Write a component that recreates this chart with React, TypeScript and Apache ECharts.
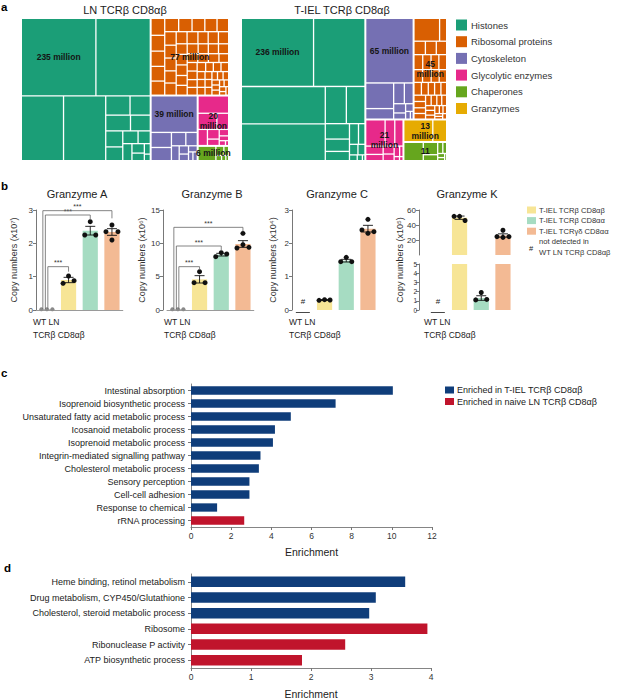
import React, { useEffect, useRef } from 'react';
import * as echarts from 'echarts';

const FONT = '"Liberation Sans", Arial, Helvetica, sans-serif';
const TXT = '#222';

// ---------------- a: treemaps ----------------
const tmCategories = ['Histones', 'Ribosomal proteins', 'Cytoskeleton', 'Glycolytic enzymes', 'Chaperones', 'Granzymes'];
const tmColors = ['#1b9e77', '#d95f02', '#7570b3', '#e7298a', '#66a61e', '#e6ab02'];
const tmTitles = ['LN TCRβ CD8αβ', 'T-IEL TCRβ CD8αβ'];
const lnTotals = [235, 77, 39, 20, 6, 0];
const ielTotals = [236, 45, 65, 21, 11, 13];
const lnLabels = ['235 million', '77 million', '39 million', '20\nmillion', '6 million', ''];
const ielLabels = ['236 million', '45\nmillion', '65 million', '21\nmillion', '11\nmillion', '13\nmillion'];
const labelOnFirstLeaf = [true, false, true, false, false, false];

const lnHistones = [74, 54, 35, 35, 6, 5, 5, 4, 3.5, 3, 2.5, 2, 2, 1.5, 1.2, 0.8, 0.5];
const lnRibosomal = [3.0, 2.8, 2.7, 2.6, 2.5, 2.4, 2.3, 2.2, 2.1, 2.0, 2.0, 1.9, 1.9, 1.8, 1.8, 1.7, 1.7, 1.6, 1.6, 1.6, 1.5, 1.5, 1.5, 1.4, 1.4, 1.4, 1.3, 1.3, 1.3, 1.2, 1.2, 1.2, 1.1, 1.1, 1.1, 1.0, 1.0, 1.0, 0.9, 0.9, 0.9, 0.8, 0.8, 0.8, 0.7, 0.7, 0.7, 0.6, 0.6, 0.6, 0.5, 0.5, 0.5, 0.4, 0.4, 0.4, 0.3, 0.3];
const lnCytoskeleton = [22, 4, 3.5, 2.5, 2, 1.5, 1, 0.8, 0.7, 0.5, 0.5];
const lnGlycolytic = [7, 4, 2.5, 2, 1.5, 1, 0.8, 0.6, 0.4, 0.2];
const lnChaperones = [3.5, 1, 0.6, 0.4, 0.3, 0.2];
const lnGranzymes: number[] = [];

const ielHistones = [66, 47, 42, 41.5, 10.5, 9.3, 5, 4, 3, 2.5, 1.8, 1.2, 1, 0.6, 0.4, 0.2];
const ielRibosomal = [8, 2.2, 2.1, 2, 1.9, 1.8, 1.7, 1.6, 1.6, 1.5, 1.5, 1.4, 1.3, 1.3, 1.2, 1.1, 1.1, 1.0, 1.0, 1.0, 0.9, 0.9, 0.8, 0.8, 0.7, 0.7, 0.6, 0.6, 0.5, 0.5, 0.4, 0.4, 0.3, 0.3, 0.3];
const ielCytoskeleton = [41.7, 9.7, 4, 3, 2.5, 1.5, 1, 0.8, 0.5, 0.3];
const ielGlycolytic = [7, 3.5, 3, 2, 1.5, 1.2, 1, 0.8, 0.5, 0.3, 0.2];
const ielChaperones = [5, 2.5, 1.2, 0.8, 0.6, 0.4, 0.3, 0.2];
const ielGranzymes = [8.8, 4.2];

const lnLeaves = [lnHistones, lnRibosomal, lnCytoskeleton, lnGlycolytic, lnChaperones, lnGranzymes];
const ielLeaves = [ielHistones, ielRibosomal, ielCytoskeleton, ielGlycolytic, ielChaperones, ielGranzymes];

// ---------------- b: granzymes ----------------
const gzmTitles = ['Granzyme A', 'Granzyme B', 'Granzyme C', 'Granzyme K'];
const gzmYNames = ['Copy numbers (x10⁷)', 'Copy numbers (x10⁶)', 'Copy numbers (x10⁴)', 'Copy numbers (x10⁵)'];
const cellTypes = ['WT LN TCRβ CD8αβ', 'T-IEL TCRβ CD8αβ', 'T-IEL TCRβ CD8αα', 'T-IEL TCRγδ CD8αα'];
const cellColors = ['#9a9a9a', '#f7e596', '#a6dcc2', '#f3ba94'];
const gzmMeans = [
  [0.02, 0.9, 2.38, 2.34],
  [0.1, 4.6, 8.3, 9.9],
  [null, 0.3, 1.48, 2.44],
  [null, 49.7, 1.3, 26],
];
const gzmSems = [
  [null, 0.08, 0.13, 0.1],
  [null, 0.55, 0.2, 0.5],
  [null, 0.015, 0.04, 0.1],
  [null, 2.2, 0.25, 2.2],
];
const gzmDots = [
  [[0.02, 0.02, 0.02], [1.02, 0.8, 0.88], [2.65, 2.25, 2.25], [2.55, 2.35, 2.35, 2.1]],
  [[0.1, 0.1, 0.1], [5.75, 4.1, 4.1], [8.6, 8.0, 8.4], [11.5, 9.3, 9.4, 9.8]],
  [[], [0.31, 0.29, 0.3], [1.58, 1.45, 1.45], [2.72, 2.4, 2.35, 2.3]],
  [[], [51.5, 51.5, 46], [1.9, 1.1, 1.15], [33, 24.5, 24.5, 23.5]],
];
// [fromGroup, toGroup, bracketTop, rightFoot, leftFoot]
const gzmBrackets = [
  [[0, 1, 1.3, 1.15, 0.03], [0, 2, 2.85, 2.7, 0.03], [0, 3, 2.98, 2.75, 0.03]],
  [[0, 1, 6.5, 6.0, 0.15], [0, 2, 9.6, 9.0, 0.15], [0, 3, 12.4, 11.75, 0.15]],
  [],
  [],
];
const gzmNotDetected = [false, false, true, true];
const gzmYMax = [3, 15, 3];
const gzmYInterval = [1, 5, 1];
const gzmKUpper = { min: 0, max: 60, interval: 20 };
const gzmKLower = { min: 0, max: 5, interval: 1 };

// ---------------- c / d: enrichment ----------------
const enrichGroups = ['Enriched in T-IEL TCRβ CD8αβ', 'Enriched in naive LN TCRβ CD8αβ'];
const enrichColors = ['#0f3d7a', '#c0142c'];
const cTerms = ['Intestinal absorption', 'Isoprenoid biosynthetic process', 'Unsaturated fatty acid metabolic process', 'Icosanoid metabolic process', 'Isoprenoid metabolic process', 'Integrin-mediated signalling pathway', 'Cholesterol metabolic process', 'Sensory perception', 'Cell-cell adhesion', 'Response to chemical', 'rRNA processing'];
const cValues = [10.05, 7.2, 4.97, 4.18, 4.08, 3.46, 3.38, 2.91, 2.91, 1.3, 2.65];
const cGroups = [0, 0, 0, 0, 0, 0, 0, 0, 0, 0, 1];
const dTerms = ['Heme binding, retinol metabolism', 'Drug metabolism, CYP450/Glutathione', 'Cholesterol, steroid metabolic process', 'Ribosome', 'Ribonuclease P activity', 'ATP biosynthetic process'];
const dValues = [3.57, 3.08, 2.97, 3.94, 2.57, 1.85];
const dGroups = [0, 0, 0, 1, 1, 1];
const cTicks = { min: 0, max: 12, interval: 2 };
const dTicks = { min: 0, max: 4, interval: 1 };

// ---------------- layout constants ----------------
const tmLayout = [
  { left: 22, width: 206, ratio: 1, titleX: 125 },
  { left: 242, width: 204, ratio: 1.618, titleX: 342 },
];
const bGridLeft = [36, 167, 292, 427];
const bCatW = 21.7;
const bAxisOffset = [0, 4, 0, 8];
const bNameGap = [18, 17, 14.5];
const bTitleX = [77, 212, 337, 467];
const dotOffsets: Record<number, number[]> = { 3: [0, -5.5, 5.5], 4: [0, -6, 6, 0] };
const bracketShift = [0, 1, -1.5, -4];

function buildOption() {
  const grids: any[] = [];
  const xAxes: any[] = [];
  const yAxes: any[] = [];
  const series: any[] = [];
  const gfx: any[] = [];

  const addGrid = (grid: any, x: any, y: any) => {
    grids.push(grid);
    const i = grids.length - 1;
    xAxes.push({ ...x, gridIndex: i });
    yAxes.push({ ...y, gridIndex: i });
    return i;
  };
  const text = (t: string, x: number, y: number, o: any = {}) => ({
    type: 'text', x, y, rotation: o.rotation || 0, silent: true,
    style: {
      text: t, fill: o.fill || TXT, fontSize: o.fontSize || 9, fontWeight: o.fontWeight || 'normal',
      fontFamily: FONT, align: o.align || 'left', verticalAlign: o.verticalAlign || 'middle', lineHeight: o.lineHeight,
    },
  });

  // ---------- panel a ----------
  const tmSides = [
    { totals: lnTotals, labels: lnLabels, leaves: lnLeaves },
    { totals: ielTotals, labels: ielLabels, leaves: ielLeaves },
  ];
  tmSides.forEach((side, s) => {
    const lay = tmLayout[s];
    const main = tmCategories.map((name, i) => ({
      name, value: side.totals[i],
      itemStyle: { color: tmColors[i], borderColor: '#fff' },
      children: side.leaves[i].map((v, j) => ({
        name: name + ' ' + (j + 1), value: v,
        itemStyle: { color: tmColors[i], borderColor: '#fff' },
        label: j === 0 && labelOnFirstLeaf[i] ? { show: true, formatter: side.labels[i] } : { show: false },
      })),
    })).filter((d) => d.value > 0);
    const overlay = tmCategories.map((name, i) => ({
      name, value: side.totals[i],
      itemStyle: { color: 'rgba(0,0,0,0)', borderColor: 'rgba(0,0,0,0)' },
      label: { show: !labelOnFirstLeaf[i], formatter: side.labels[i] },
    })).filter((d) => d.value > 0);
    const labelStyle = {
      show: false, position: 'inside', fontSize: 8.5, fontWeight: 'bold', color: '#151515',
      overflow: 'none', padding: 0, lineHeight: 10, fontFamily: FONT,
    };
    const common = {
      type: 'treemap', left: lay.left, top: 19, width: lay.width, height: 141,
      squareRatio: lay.ratio, roam: false, nodeClick: false, breadcrumb: { show: false },
      sort: 'desc', visibleMin: 0, upperLabel: { show: false }, label: labelStyle,
      emphasis: { disabled: true },
    };
    series.push({
      ...common, name: tmTitles[s], data: main,
      levels: [
        { itemStyle: { borderWidth: 0, gapWidth: 2, borderColor: '#fff' } },
        { itemStyle: { borderWidth: 0, gapWidth: 1.3, borderColor: '#fff' } },
        { itemStyle: { borderWidth: 0, gapWidth: 0, borderColor: '#fff' } },
      ],
    });
    series.push({
      ...common, name: tmTitles[s] + ' labels', data: overlay, silent: true, z: 5,
      levels: [
        { itemStyle: { borderWidth: 0, gapWidth: 2, borderColor: 'rgba(0,0,0,0)', color: 'rgba(0,0,0,0)' } },
        { itemStyle: { borderWidth: 0, borderColor: 'rgba(0,0,0,0)', color: 'rgba(0,0,0,0)' } },
      ],
    });
    gfx.push(text(tmTitles[s], lay.titleX, 10, { fontSize: 11, align: 'center' }));
  });
  gfx.push(text('a', 1, 7, { fontSize: 11.5, fontWeight: 'bold', fill: '#000' }));
  tmCategories.forEach((c, i) => {
    const y = 25 + i * 16.7;
    gfx.push({ type: 'rect', shape: { x: 456, y: y - 5.5, width: 11, height: 11 }, style: { fill: tmColors[i] }, silent: true });
    gfx.push(text(c, 471, y, { fontSize: 9.5, fill: '#333' }));
  });

  // ---------- panel b ----------
  const yAxisBase = (p: number) => ({
    type: 'value', offset: bAxisOffset[p], splitLine: { show: false },
    axisLine: { show: true, lineStyle: { color: '#555', width: 0.8 } },
    axisTick: { show: true, length: 3, lineStyle: { color: '#555', width: 0.8 } },
    axisLabel: { fontSize: 8, color: '#333', margin: 3, fontFamily: FONT },
  });
  const xAxisBase = (p: number) => ({
    type: 'category', data: cellTypes,
    axisLabel: { show: false }, axisTick: { show: false },
    axisLine: { show: !gzmNotDetected[p], lineStyle: { color: '#9a9a9a', width: 1 } },
  });

  const addPanelSeries = (p: number, gi: number, lo: number, hi: number, barLo: number) => {
    const means = gzmMeans[p];
    series.push({
      type: 'bar', xAxisIndex: gi, yAxisIndex: gi, barWidth: '70%', clip: true,
      data: means.map((m, k) => (m == null || m <= barLo ? '-' : { value: m, itemStyle: { color: cellColors[k] } })),
    });
    const dots: any[] = [];
    gzmDots[p].forEach((arr, k) => {
      const offs = dotOffsets[arr.length] || [];
      arr.forEach((v, j) => {
        if (v > lo && v <= hi) dots.push([k, v, offs[j] || 0, k === 0 ? 1 : 0]);
      });
    });
    series.push({
      type: 'custom', xAxisIndex: gi, yAxisIndex: gi, encode: { x: 0, y: 1 }, data: dots, z: 4,
      renderItem: (params: any, api: any) => {
        const pt = api.coord([api.value(0), api.value(1)]);
        const wt = api.value(3) === 1;
        return { type: 'circle', shape: { cx: pt[0] + api.value(2), cy: pt[1], r: wt ? 2 : 2.5 }, style: { fill: wt ? '#8a8a8a' : '#111' } };
      },
    });
    const errs: any[] = [];
    means.forEach((m, k) => {
      const s = gzmSems[p][k];
      if (m != null && s != null && m > lo && m <= hi) errs.push([k, m, s]);
    });
    series.push({
      type: 'custom', xAxisIndex: gi, yAxisIndex: gi, encode: { x: 0, y: 1 }, data: errs, z: 5,
      renderItem: (params: any, api: any) => {
        const c = api.value(0), m = api.value(1), s = api.value(2);
        const a = api.coord([c, m + s]);
        const b = api.coord([c, m - s]);
        const st = { stroke: '#111', lineWidth: 0.9 };
        return {
          type: 'group', children: [
            { type: 'line', shape: { x1: a[0], y1: a[1], x2: b[0], y2: b[1] }, style: st },
            { type: 'line', shape: { x1: a[0] - 5, y1: a[1], x2: a[0] + 5, y2: a[1] }, style: st },
            { type: 'line', shape: { x1: b[0] - 5, y1: b[1], x2: b[0] + 5, y2: b[1] }, style: st },
          ],
        };
      },
    });
    if (gzmBrackets[p].length) {
      series.push({
        type: 'custom', xAxisIndex: gi, yAxisIndex: gi, encode: { x: 0, y: 2 }, data: gzmBrackets[p], z: 6,
        renderItem: (params: any, api: any) => {
          const from = api.value(0), to = api.value(1), top = api.value(2), drop = api.value(3), base = api.value(4);
          const pb = api.coord([from, base]);
          const pt = api.coord([to, top]);
          const pd = api.coord([to, drop]);
          const xl = pb[0] + bracketShift[to];
          return {
            type: 'group', children: [
              { type: 'polyline', shape: { points: [[xl, pb[1]], [xl, pt[1]], [pt[0], pt[1]], [pt[0], pd[1]]] }, style: { stroke: '#666', lineWidth: 0.8, fill: null } },
              { type: 'text', x: (xl + pt[0]) / 2, y: pt[1] - 0.5, style: { text: '***', fontSize: 7, fill: '#333', fontFamily: FONT, align: 'center', verticalAlign: 'bottom' } },
            ],
          };
        },
      });
    }
  };

  for (let p = 0; p < 4; p++) {
    const left = bGridLeft[p];
    const width = bCatW * 4;
    if (p < 3) {
      const gi = addGrid(
        { left, top: 210, width, height: 100 },
        xAxisBase(p),
        {
          ...yAxisBase(p), min: 0, max: gzmYMax[p], interval: gzmYInterval[p],
          name: gzmYNames[p], nameLocation: 'middle', nameGap: bNameGap[p], nameRotate: 90,
          nameTextStyle: { fontSize: 9, color: '#333', fontFamily: FONT },
        },
      );
      addPanelSeries(p, gi, -Infinity, Infinity, -Infinity);
    } else {
      const gu = addGrid(
        { left, top: 210, width, height: 45 },
        { ...xAxisBase(p), axisLine: { show: false } },
        { ...yAxisBase(p), ...gzmKUpper, axisLabel: { ...yAxisBase(p).axisLabel, showMinLabel: false } },
      );
      addPanelSeries(p, gu, gzmKLower.max, Infinity, gzmKLower.max);
      const gl = addGrid(
        { left, top: 264, width, height: 46 },
        xAxisBase(p),
        { ...yAxisBase(p), ...gzmKLower, axisLabel: { ...yAxisBase(p).axisLabel, fontSize: 6.5, margin: 2 } },
      );
      addPanelSeries(p, gl, -Infinity, gzmKLower.max, -Infinity);
      gfx.push(text(gzmYNames[p], 400, 260, { fontSize: 9, align: 'center', rotation: Math.PI / 2, fill: '#333' }));
    }
    gfx.push(text(gzmTitles[p], bTitleX[p], 194, { fontSize: 11, align: 'center' }));
    gfx.push(text('WT LN', left - 3, 322, { fontSize: 8.5 }));
    gfx.push(text('TCRβ CD8αβ', left - 3, 335, { fontSize: 8.5 }));
    if (gzmNotDetected[p]) {
      const cx = left + bCatW / 2;
      gfx.push(text('#', cx, 301, { fontSize: 8, align: 'center' }));
      gfx.push({ type: 'line', shape: { x1: cx - 7, y1: 312.5, x2: cx + 7, y2: 312.5 }, style: { stroke: '#333', lineWidth: 0.9 }, silent: true });
    }
  }
  gfx.push(text('b', 1, 186, { fontSize: 11.5, fontWeight: 'bold', fill: '#000' }));
  cellTypes.slice(1).forEach((c, i) => {
    const y = 210 + i * 10.6;
    gfx.push({ type: 'rect', shape: { x: 527, y: y - 3.5, width: 9, height: 7 }, style: { fill: cellColors[i + 1] }, silent: true });
    gfx.push(text(c, 539, y, { fontSize: 7.6, fill: '#333' }));
  });
  gfx.push(text('#', 531, 248, { fontSize: 7.5, align: 'center' }));
  gfx.push(text('not detected in', 539, 241.5, { fontSize: 7.6, fill: '#333' }));
  gfx.push(text('WT LN TCRβ CD8αβ', 539, 252, { fontSize: 7.6, fill: '#333' }));

  // ---------- panels c, d ----------
  const enrichPanel = (terms: string[], values: number[], groups: number[], ticks: any, grid: any, barW: string, nameGap: number) => {
    const gi = addGrid(
      grid,
      {
        type: 'value', ...ticks, splitLine: { show: false },
        axisLine: { show: true, lineStyle: { color: '#777', width: 0.9 } },
        axisTick: { show: true, length: 3, lineStyle: { color: '#777' } },
        axisLabel: { fontSize: 8.5, color: '#333', margin: 4, fontFamily: FONT },
        name: 'Enrichment', nameLocation: 'middle', nameGap,
        nameTextStyle: { fontSize: 10.5, color: '#222', fontFamily: FONT },
      },
      {
        type: 'category', inverse: true, data: terms,
        axisLine: { show: true, lineStyle: { color: '#777', width: 0.9 } },
        axisTick: { show: true, length: 3, alignWithLabel: true, lineStyle: { color: '#777' } },
        axisLabel: { fontSize: 9, color: '#222', margin: 6, interval: 0, fontFamily: FONT },
      },
    );
    series.push({
      type: 'bar', xAxisIndex: gi, yAxisIndex: gi, barWidth: barW,
      data: values.map((v, i) => ({ value: v, itemStyle: { color: enrichColors[groups[i]] } })),
    });
  };
  enrichPanel(cTerms, cValues, cGroups, cTicks, { left: 191, top: 384, width: 241, height: 143 }, '64%', 19);
  enrichPanel(dTerms, dValues, dGroups, dTicks, { left: 191, top: 574, width: 240, height: 96 }, '67%', 20);
  gfx.push(text('c', 1, 373, { fontSize: 11.5, fontWeight: 'bold', fill: '#000' }));
  gfx.push(text('d', 4, 568, { fontSize: 11.5, fontWeight: 'bold', fill: '#000' }));
  enrichGroups.forEach((gname, i) => {
    const y = 390 + i * 11.5;
    gfx.push({ type: 'rect', shape: { x: 445, y: y - 3.5, width: 9, height: 7 }, style: { fill: enrichColors[i] }, silent: true });
    gfx.push(text(gname, 457, y, { fontSize: 9, fill: '#222' }));
  });

  return {
    animation: false,
    textStyle: { fontFamily: FONT },
    grid: grids,
    xAxis: xAxes,
    yAxis: yAxes,
    series,
    graphic: { elements: gfx },
  };
}

export default function App() {
  const ref = useRef<HTMLDivElement>(null);
  useEffect(() => {
    const chart = echarts.init(ref.current as HTMLDivElement, null, { renderer: 'svg' });
    chart.setOption(buildOption() as any);
    return () => chart.dispose();
  }, []);
  return <div ref={ref} style={{ position: 'absolute', left: 0, top: 0, width: 617, height: 700, background: '#fff' }} />;
}
